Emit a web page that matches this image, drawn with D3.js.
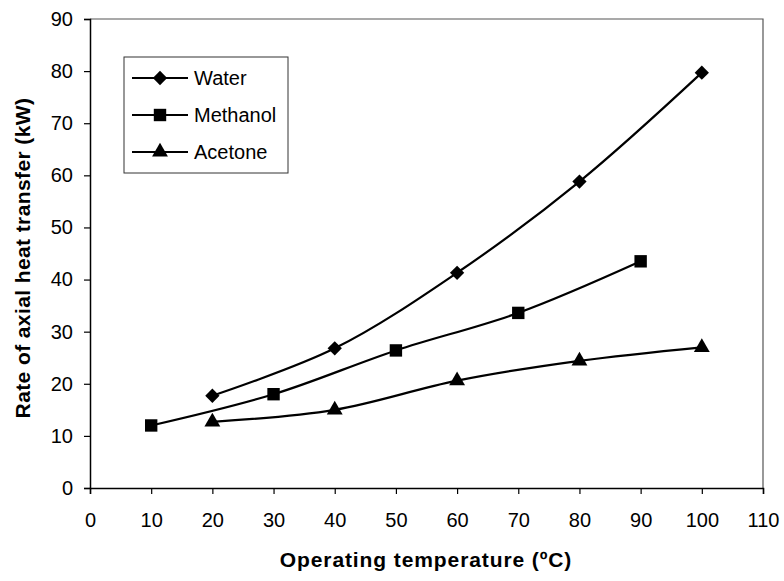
<!DOCTYPE html>
<meta charset="utf-8">
<script src="https://d3js.org/d3.v7.js"></script>
<style>
  body { margin: 0; background: #fff; }
  text { font-family: "Liberation Sans", Arial, sans-serif; }
</style>
<svg id="chart" width="784" height="581"></svg>
<script>
  const width = 784;
  const height = 581;

  // data
  const waterX = [20, 40, 60, 80, 100];
  const waterY = [17.7, 26.8, 41.3, 58.8, 79.7];
  const methanolX = [10, 30, 50, 70, 90];
  const methanolY = [12, 18, 26.4, 33.6, 43.5];
  const acetoneX = [20, 40, 60, 80, 100];
  const acetoneY = [12.7, 15, 20.6, 24.4, 27];
  const xTicks = [0, 10, 20, 30, 40, 50, 60, 70, 80, 90, 100, 110];
  const yTicks = [0, 10, 20, 30, 40, 50, 60, 70, 80, 90];

  const series = [
    { name: "Water", xs: waterX, ys: waterY, symbol: d3.symbolDiamond2, size: 130 },
    { name: "Methanol", xs: methanolX, ys: methanolY, symbol: d3.symbolSquare2, size: 196 },
    { name: "Acetone", xs: acetoneX, ys: acetoneY, symbol: d3.symbolTriangle2, size: 180 }
  ];

  const margin = { left: 90, right: 21, top: 19, bottom: 93 };

  const svg = d3.select("#chart");

  const x = d3.scaleLinear().domain([0, 110]).range([margin.left, width - margin.right]);
  const y = d3.scaleLinear().domain([0, 90]).range([height - margin.bottom, margin.top]);

  // plot area border (top and right)
  svg.append("path")
    .attr("d", `M${x(0)},${y(90)}H${x(110)}V${y(0)}`)
    .attr("fill", "none")
    .attr("stroke", "#555")
    .attr("stroke-width", 1.2);

  // axes
  const xAxis = svg.append("g")
    .attr("transform", `translate(0,${y(0)})`)
    .call(d3.axisBottom(x).tickValues(xTicks).tickSize(6).tickPadding(19).tickFormat(d3.format("d")));
  const yAxis = svg.append("g")
    .attr("transform", `translate(${x(0)},0)`)
    .call(d3.axisLeft(y).tickValues(yTicks).tickSize(6).tickPadding(11).tickFormat(d3.format("d")));

  [xAxis, yAxis].forEach(g => {
    g.select(".domain").attr("stroke", "#000").attr("stroke-width", 1.5);
    g.selectAll(".tick line").attr("stroke", "#000").attr("stroke-width", 1.2);
    g.selectAll(".tick text").attr("font-size", 20).attr("fill", "#000")
      .attr("font-family", "Liberation Sans, Arial, sans-serif");
  });

  // lines
  const line = d3.line()
    .x(d => x(d[0]))
    .y(d => y(d[1]))
    .curve(d3.curveCatmullRom.alpha(0.5));

  series.forEach(s => {
    const pts = s.xs.map((v, i) => [v, s.ys[i]]);
    svg.append("path")
      .datum(pts)
      .attr("d", line)
      .attr("fill", "none")
      .attr("stroke", "#000")
      .attr("stroke-width", 2.2);

    svg.append("g").selectAll("path")
      .data(pts)
      .join("path")
      .attr("transform", d => `translate(${x(d[0])},${y(d[1])})`)
      .attr("d", d3.symbol().type(s.symbol).size(s.size))
      .attr("fill", "#000");
  });

  // legend
  const legend = svg.append("g").attr("transform", "translate(124,57)");
  legend.append("rect")
    .attr("width", 164).attr("height", 116)
    .attr("fill", "#fff").attr("stroke", "#333").attr("stroke-width", 1);

  series.forEach((s, i) => {
    const ly = 21 + i * 37;
    legend.append("line")
      .attr("x1", 8).attr("x2", 64).attr("y1", ly).attr("y2", ly)
      .attr("stroke", "#000").attr("stroke-width", 2.2);
    legend.append("path")
      .attr("transform", `translate(36,${ly})`)
      .attr("d", d3.symbol().type(s.symbol).size(s.size))
      .attr("fill", "#000");
    legend.append("text")
      .attr("x", 70).attr("y", ly + 7)
      .attr("font-size", 20)
      .text(s.name);
  });

  // axis titles
  svg.append("text")
    .attr("x", 426)
    .attr("y", 567)
    .attr("text-anchor", "middle")
    .attr("font-size", 21)
    .attr("font-weight", "bold")
    .attr("letter-spacing", 0.9)
    .text("Operating temperature (ºC)");

  svg.append("text")
    .attr("transform", `translate(30,258) rotate(-90)`)
    .attr("text-anchor", "middle")
    .attr("font-size", 21)
    .attr("font-weight", "bold")
    .attr("letter-spacing", 0.4)
    .text("Rate of axial heat transfer (kW)");
</script>
